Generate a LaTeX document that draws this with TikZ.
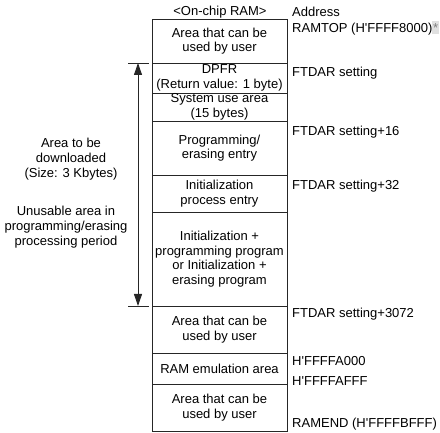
\documentclass[tikz,border=0pt]{standalone}
\usepackage{fontspec}
\setmainfont{Liberation Sans}
\usepackage{tikz}
\usetikzlibrary{arrows.meta,positioning,calc}
\usepackage{xcolor}

\begin{document}
\begin{tikzpicture}[
        x=1pt, y=-1pt,
        every node/.style={font=\fontsize{13}{14.7}\selectfont, inner sep=0pt},
        ram/.style={draw=black!85, line width=0.9pt, minimum width=135pt, align=center},
        addr/.style={anchor=west, text height=9.3pt, text depth=0pt},
        dim/.style={line width=0.9pt, black!85},
        tip/.style={-{Triangle[length=12pt,width=8pt]}},
    ]
        \useasboundingbox (0,0) rectangle (440,433);

        % --- Headings ---
        \node (head)  at (220,12) {<On-chip RAM>};
        \node[addr] (addr) at (292,12) {Address};

        % --- On-chip RAM blocks ---
        \node[ram, minimum height=44pt] (user1) at (219.5,41)    {Area that can be\\used by user};
        \node[ram, minimum height=30pt] (dpfr)  at (219.5,78)    {DPFR\\(Return value: 1 byte)};
        \node[ram, minimum height=28pt] (sys)   at (219.5,107)   {System use area\\(15 bytes)};
        \node[ram, minimum height=54pt] (entry) at (219.5,148)   {Programming/\\erasing entry};
        \node[ram, minimum height=37pt] (init)  at (219.5,193.5) {Initialization\\process entry};
        \node[ram, minimum height=94pt] (prog)  at (219.5,259)   {Initialization +\\programming program\\or Initialization +\\erasing program};
        \node[ram, minimum height=47pt] (user2) at (219.5,329.5) {Area that can be\\used by user};
        \node[ram, minimum height=31pt] (emu)   at (219.5,368.5) {RAM emulation area};
        \node[ram, minimum height=47pt] (user3) at (219.5,407.5) {Area that can be\\used by user};

        % --- Addresses ---
        \node[addr] (ramtop) at (292,28.3) {RAMTOP (H\textquotesingle FFFF8000){\setlength{\fboxsep}{0.8pt}\colorbox{black!12}{\rule{0pt}{11pt}\textcolor{black!50}{*}}}};
        \node[addr] (ftdar)   at (292,72.3)  {FTDAR setting};
        \node[addr] (ftdar16) at (292,130.7) {FTDAR setting+16};
        \node[addr] (ftdar32) at (292,185)   {FTDAR setting+32};
        \node[addr] (ftdarE)  at (292,313.3) {FTDAR setting+3072};
        \node[addr] (emuTop)  at (292,361)   {H\textquotesingle FFFFA000};
        \node[addr] (emuBot)  at (292,381)   {H\textquotesingle FFFFAFFF};
        \node[addr] (ramend)  at (292,423)   {RAMEND (H\textquotesingle FFFFBFFF)};

        % --- Download area ---
        \node[align=center] (dlsize) at (71,159.3) {Area to be\\downloaded\\(Size: 3 Kbytes)};
        \node[align=center] (unuse)  at (66,227)   {Unusable area in\\programming/erasing\\processing period};

        \coordinate (dlTop) at (138,63);
        \coordinate (dlBot) at (138,306);
        \draw[dim] ([xshift=-10pt]dlTop) -- ([xshift=11pt]dlTop);
        \draw[dim] ([xshift=-10pt]dlBot) -- ([xshift=11pt]dlBot);
        \draw[dim, tip] ($(dlTop)!0.5!(dlBot)$) -- (dlTop);
        \draw[dim, tip] ($(dlTop)!0.5!(dlBot)$) -- (dlBot);

    \end{tikzpicture}
\end{document}
